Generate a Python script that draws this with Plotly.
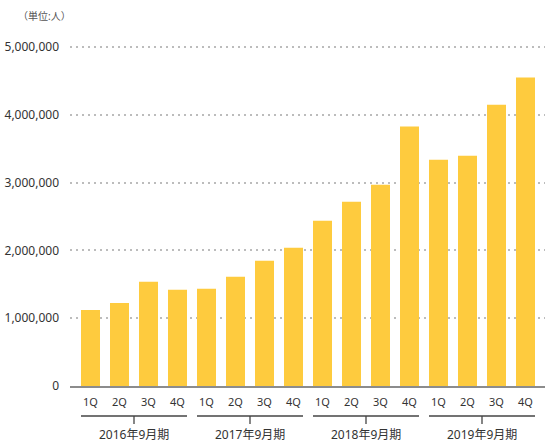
import plotly.graph_objects as go

# 会員数の推移（四半期別）
fiscal_years = ["2016年9月期", "2017年9月期", "2018年9月期", "2019年9月期"]
quarters = ["1Q", "2Q", "3Q", "4Q"]
members = [
    1120000, 1226000, 1536000, 1418000,
    1433000, 1610000, 1846000, 2038000,
    2437000, 2718000, 2969000, 3826000,
    3338000, 3397000, 4150000, 4550000,
]
y_ticks = [0, 1000000, 2000000, 3000000, 4000000, 5000000]
unit_label = "（単位:人）"

W, H = 545, 442
L, R, T, B = 70, 0, 40, 56
PLOT_W, PLOT_H = W - L - R, H - T - B
BAR_COLOR = "#FECB3E"
TEXT = "#333333"
FONT = "Noto Sans, Noto Sans CJK JP, sans-serif"

x_pos = list(range(len(members)))
tick_text = [q for _ in fiscal_years for q in quarters]

# pixel layout -> axis ranges
step = 29.0
x0 = -(90.5 - L) / step
x_range = [x0, x0 + PLOT_W / step]
y_top = PLOT_H / (386 - 47) * 5000000
bar_w = 19 / step


def py(pixel_y):
    """page pixel y -> paper y"""
    return (H - B - pixel_y) / PLOT_H


def px(pixel_x):
    return (pixel_x - L) / PLOT_W


fig = go.Figure()
fig.add_trace(go.Bar(
    x=x_pos,
    y=members,
    width=bar_w,
    marker_color=BAR_COLOR,
    marker_line_width=0,
    hovertemplate="%{y:,}<extra></extra>",
))

shapes = []
annotations = []
for i, fy in enumerate(fiscal_years):
    first = i * len(quarters)
    last = first + len(quarters) - 1
    left = first - bar_w / 2
    right = last + bar_w / 2
    mid = (left + right) / 2
    shapes.append(dict(type="line", xref="x", yref="paper", x0=left, x1=right,
                       y0=py(416), y1=py(416), line=dict(color="#444", width=1.3)))
    shapes.append(dict(type="line", xref="x", yref="paper", x0=mid, x1=mid,
                       y0=py(416), y1=py(424), line=dict(color="#444", width=1.3)))
    annotations.append(dict(x=mid, y=py(434), xref="x", yref="paper", text=fy,
                            yanchor="middle", showarrow=False,
                            font=dict(size=12, color=TEXT)))

annotations.append(dict(x=px(16), y=py(16), xref="paper", yref="paper", text=unit_label,
                        showarrow=False, xanchor="left", yanchor="middle",
                        font=dict(size=10, color="#555")))

fig.update_layout(
    width=W,
    height=H,
    margin=dict(l=L, r=R, t=T, b=B, autoexpand=False),
    paper_bgcolor="white",
    plot_bgcolor="white",
    font=dict(family=FONT, color=TEXT),
    showlegend=False,
    shapes=shapes,
    annotations=annotations,
    xaxis=dict(
        range=x_range,
        tickvals=x_pos,
        ticktext=tick_text,
        tickfont=dict(size=11, color=TEXT),
        showgrid=False,
        showline=True,
        linecolor="#8c8c8c",
        linewidth=1.5,
        ticks="",
        ticklabelstandoff=5,
        zeroline=False,
        automargin=False,
    ),
    yaxis=dict(
        range=[0, y_top],
        tickvals=y_ticks,
        tickformat=",d",
        tickfont=dict(size=12, color=TEXT),
        showgrid=True,
        gridcolor="#bcbcbc",
        griddash="2px,4px",
        gridwidth=2,
        zeroline=False,
        ticks="",
        ticklabelstandoff=10,
        automargin=False,
    ),
)

# page body has a default 8px margin; drop it so the chart sits at 0,0
fig.write_html("out.html", config={"displayModeBar": False},
               post_script="document.body.style.margin='0';")
